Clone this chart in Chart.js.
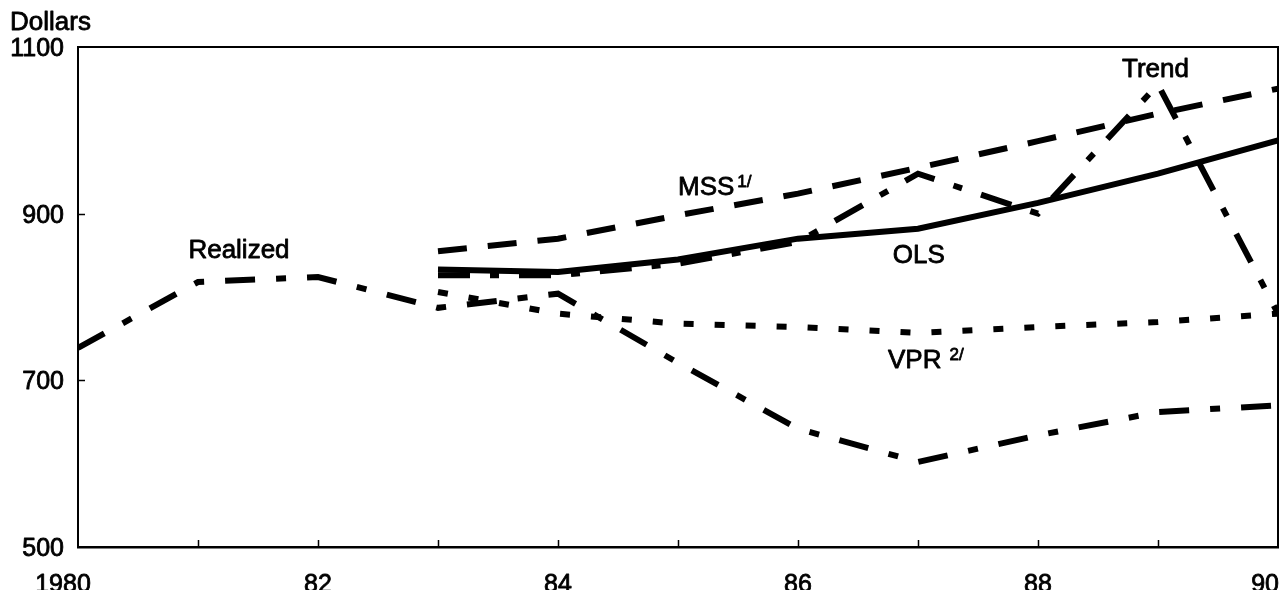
<!DOCTYPE html>
<html>
<head>
<meta charset="utf-8">
<script src="https://cdn.jsdelivr.net/npm/chart.js@4/dist/chart.umd.min.js"></script>
<style>
  html, body { margin: 0; padding: 0; background: #fff; }
  #wrap { width: 1280px; height: 590px; }
</style>
</head>
<body>
<div id="wrap"><canvas id="c" width="1280" height="590"></canvas></div>
<script>
// ---- Data ----
const realizedYears = [1980, 1981, 1982, 1983, 1984, 1985, 1986, 1987, 1988, 1989, 1990];
const realized      = [739, 818, 824, 787, 804, 721, 642, 602, 634, 662, 670];

const forecastYears = [1983, 1984, 1985, 1986, 1987, 1988, 1989, 1990];
const mss   = [855, 870, 898, 924, 955, 987, 1020, 1050];
const ols   = [833, 830, 845, 870, 882, 913, 948, 988];
const vpr   = [806, 780, 768, 764, 757, 764, 770, 780];
const trend = [826, 826, 840, 866, 948, 900, 1055, 780];

const yTickValues  = [500, 700, 900, 1100];
const yTickLabels  = ['500', '700', '900', '1100'];
const xTickYears   = [1981, 1982, 1983, 1984, 1985, 1986, 1987, 1988, 1989];
const xLabelYears  = [1980, 1982, 1984, 1986, 1988, 1990];
const xLabelTexts  = ['1980', '82', '84', '86', '88', '90'];
const yAxisTitle   = 'Dollars';

// series labels: [text, superscript, x (year), y (dollars, baseline)]
const seriesLabels = [
  ['Realized', '',   1980.92, 847],
  ['MSS',      '1/', 1985.0,  922],
  ['OLS',      '',   1986.79, 841],
  ['VPR',      '2/', 1986.75, 715],
  ['Trend',    '',   1988.70, 1064]
];

const FONT = '"Liberation Sans", Arial, Helvetica, sans-serif';
const INK = '#000';

const pts = (xs, ys) => xs.map((x, i) => ({ x: x, y: ys[i] }));

function heavyText(ctx, t, x, y) {
  ctx.fillText(t, x, y);
  ctx.strokeText(t, x, y);
}

const decor = {
  id: 'decor',
  afterDraw(chart) {
    const { ctx, chartArea: a, scales } = chart;
    const xs = scales.x, ys = scales.y;
    ctx.save();
    ctx.strokeStyle = INK;
    // top and right frame
    ctx.lineWidth = 2;
    ctx.beginPath();
    ctx.moveTo(a.left, a.top);
    ctx.lineTo(a.right, a.top);
    ctx.lineTo(a.right, a.bottom);
    ctx.stroke();
    // inward tick marks
    ctx.lineWidth = 1.5;
    ctx.beginPath();
    xTickYears.forEach(yr => {
      const px = Math.round(xs.getPixelForValue(yr)) + 0.5;
      ctx.moveTo(px, a.bottom);
      ctx.lineTo(px, a.bottom - 7);
    });
    [700, 900].forEach(v => {
      const py = Math.round(ys.getPixelForValue(v)) + 0.5;
      ctx.moveTo(a.left, py);
      ctx.lineTo(a.left + 7, py);
    });
    ctx.stroke();

    ctx.fillStyle = INK;
    ctx.strokeStyle = INK;
    ctx.lineWidth = 0.8;
    ctx.lineJoin = 'round';
    ctx.textBaseline = 'alphabetic';
    // axis title
    ctx.font = '26px ' + FONT;
    ctx.textAlign = 'left';
    heavyText(ctx, yAxisTitle, 10, 30);
    // y labels
    ctx.font = '25px ' + FONT;
    ctx.textAlign = 'right';
    yTickValues.forEach((v, i) => {
      const py = ys.getPixelForValue(v);
      heavyText(ctx, yTickLabels[i], 64, py + 9);
    });
    // x labels
    xLabelYears.forEach((yr, i) => {
      const px = xs.getPixelForValue(yr);
      if (i === 0) { ctx.textAlign = 'center'; heavyText(ctx, xLabelTexts[i], px - 15, 592); }
      else if (i === xLabelYears.length - 1) { ctx.textAlign = 'right'; heavyText(ctx, xLabelTexts[i], px + 1, 592); }
      else { ctx.textAlign = 'center'; heavyText(ctx, xLabelTexts[i], px, 592); }
    });
    // series labels
    ctx.textAlign = 'left';
    seriesLabels.forEach(([t, sup, xv, yv]) => {
      const px = xs.getPixelForValue(xv);
      const py = ys.getPixelForValue(yv);
      ctx.font = '26px ' + FONT;
      heavyText(ctx, t, px, py);
      if (sup) {
        const w = ctx.measureText(t).width;
        ctx.font = '17px ' + FONT;
        heavyText(ctx, sup, px + w + (t === 'VPR' ? 8 : 3), py - 8);
      }
    });
    ctx.restore();
  }
};

new Chart(document.getElementById('c'), {
  type: 'line',
  data: {
    datasets: [
      { label: 'MSS', data: pts(forecastYears, mss), borderColor: INK, borderWidth: 6, borderDash: [29, 21], borderCapStyle: 'butt' },
      { label: 'OLS', data: pts(forecastYears, ols), borderColor: INK, borderWidth: 6, borderCapStyle: 'butt' },
      { label: 'VPR', data: pts(forecastYears, vpr), borderColor: INK, borderWidth: 6, borderDash: [10, 21], borderCapStyle: 'butt' },
      { label: 'Trend', data: pts(forecastYears, trend), borderColor: INK, borderWidth: 6, borderDash: [32, 20, 9, 20], borderCapStyle: 'butt' },
      { label: 'Realized', data: pts(realizedYears, realized), borderColor: INK, borderWidth: 6, borderDash: [30, 21, 10, 21], borderCapStyle: 'butt' }
    ]
  },
  options: {
    responsive: false,
    animation: false,
    devicePixelRatio: 1,
    layout: { padding: { top: 47, right: 2, left: 0, bottom: 0 } },
    elements: { point: { radius: 0 }, line: { tension: 0, borderJoinStyle: 'miter' } },
    plugins: { legend: { display: false }, tooltip: { enabled: false } },
    scales: {
      x: {
        type: 'linear', min: 1980, max: 1990,
        grid: { display: false, drawTicks: false },
        border: { display: true, color: INK, width: 2.5 },
        ticks: { display: false },
        afterFit(s) { s.height = 43; s.paddingLeft = 0; s.paddingRight = 0; }
      },
      y: {
        min: 500, max: 1100,
        afterBuildTicks(s) { s.ticks = yTickValues.map(v => ({ value: v })); },
        grid: { display: false, drawTicks: false },
        border: { display: true, color: INK, width: 2 },
        ticks: { display: false },
        afterFit(s) { s.width = 78; s.paddingTop = 0; s.paddingBottom = 0; }
      }
    }
  },
  plugins: [decor]
});
</script>
</body>
</html>
